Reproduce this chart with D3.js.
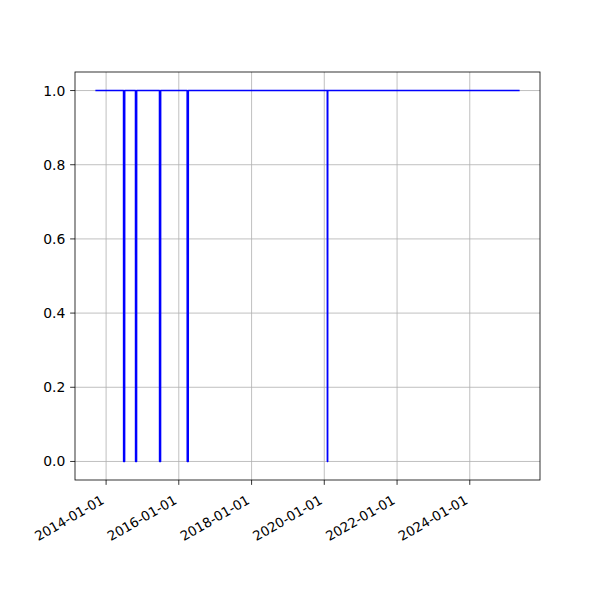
<!DOCTYPE html>
<html><head><meta charset="utf-8">
<script src="https://cdn.jsdelivr.net/npm/d3@7"></script>
<style>body{margin:0;background:#fff}svg{display:block}</style>
</head><body>
<svg id="c" width="600" height="600"></svg>
<script>
const seriesStart = "2013-09-23";
const seriesEnd = "2025-05-08";
const dipStarts = ["2014-06-26", "2014-10-24", "2015-06-22", "2016-03-26", "2020-02-01"];
const dipEnds   = ["2014-07-06", "2014-11-03", "2015-07-02", "2016-04-05", "2020-02-04"];
const xTickLabels = ["2014-01-01","2016-01-01","2018-01-01","2020-01-01","2022-01-01","2024-01-01"];
const yTicks = [0.0, 0.2, 0.4, 0.6, 0.8, 1.0];

const parse = d3.utcParse("%Y-%m-%d");
const day = 86400000;
const pts = [{d: parse(seriesStart), v: 1}];
dipStarts.forEach((s, i) => {
  const a = parse(s), b = parse(dipEnds[i]);
  pts.push({d: new Date(+a - day), v: 1});
  pts.push({d: a, v: 0});
  pts.push({d: b, v: 0});
  pts.push({d: new Date(+b + day), v: 1});
});
pts.push({d: parse(seriesEnd), v: 1});

const L = 75, R = 540, T = 72, B = 480;
const x0 = parse(seriesStart), x1 = parse(seriesEnd);
const span = x1 - x0;
const x = d3.scaleUtc().domain([new Date(+x0 - 0.05*span), new Date(+x1 + 0.05*span)]).range([L, R]);
const y = d3.scaleLinear().domain([-0.05, 1.05]).range([B, T]);

const svg = d3.select("#c");
const font = "DejaVu Sans, sans-serif";
const fs = 13.9;

// grid
const xt = xTickLabels.map(parse);
svg.append("g").selectAll("line").data(xt).join("line")
  .attr("x1", d => x(d)).attr("x2", d => x(d)).attr("y1", T).attr("y2", B)
  .attr("stroke", "#b0b0b0").attr("stroke-width", 0.8);
svg.append("g").selectAll("line").data(yTicks).join("line")
  .attr("x1", L).attr("x2", R).attr("y1", d => y(d)).attr("y2", d => y(d))
  .attr("stroke", "#b0b0b0").attr("stroke-width", 0.8);

// line
svg.append("path").datum(pts)
  .attr("d", d3.line().x(d => x(d.d)).y(d => y(d.v)))
  .attr("fill", "none").attr("stroke", "#0000ff").attr("stroke-width", 1.5)
  .attr("stroke-linejoin", "round").attr("stroke-linecap", "square");

// frame
svg.append("rect").attr("x", L).attr("y", T).attr("width", R - L).attr("height", B - T)
  .attr("fill", "none").attr("stroke", "#000").attr("stroke-width", 0.8);

// x ticks
const gx = svg.append("g");
gx.selectAll("line").data(xt).join("line")
  .attr("x1", d => x(d)).attr("x2", d => x(d)).attr("y1", B).attr("y2", B + 4.86)
  .attr("stroke", "#000").attr("stroke-width", 0.8);
gx.selectAll("text").data(xt).join("text")
  .attr("transform", d => `translate(${x(d) - 1},${B + 4.86 + 4.86 + 13}) rotate(-30)`)
  .attr("text-anchor", "end").attr("font-family", font).attr("font-size", 13.3)
  .text((d, i) => xTickLabels[i]);

// y ticks
const gy = svg.append("g");
gy.selectAll("line").data(yTicks).join("line")
  .attr("x1", L - 4.86).attr("x2", L).attr("y1", d => y(d)).attr("y2", d => y(d))
  .attr("stroke", "#000").attr("stroke-width", 0.8);
gy.selectAll("text").data(yTicks).join("text")
  .attr("x", L - 4.86 - 4.86).attr("y", d => y(d)).attr("dy", "0.36em")
  .attr("text-anchor", "end").attr("font-family", font).attr("font-size", fs)
  .text(d => d.toFixed(1));
</script>
</body></html>
